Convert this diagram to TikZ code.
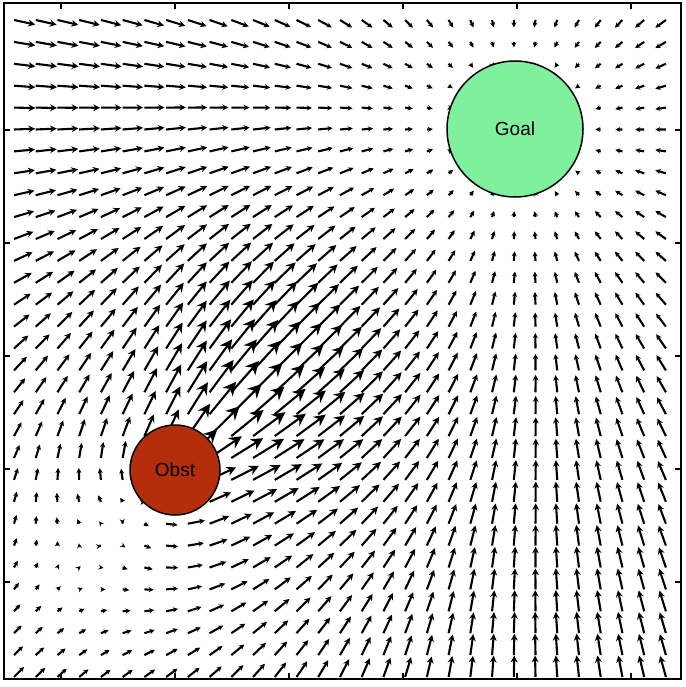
\documentclass[tikz,border=0pt]{standalone}
\usepackage{fontspec}
\setmainfont{Liberation Sans}
\usetikzlibrary{arrows.meta}
\definecolor{goalgreen}{RGB}{126,240,158}
\definecolor{obstred}{RGB}{180,46,12}
\tikzset{
  frameline/.style={line width=2.4pt, black},
  tickline/.style={line width=1.2pt, black},
  fieldarrow/.style={line width=2.1pt, black},
  goalcirc/.style={circle, draw=black, line width=1.5pt, fill=goalgreen, minimum size=136pt, inner sep=0pt, font=\fontsize{19}{19}\selectfont},
  obstcirc/.style={circle, draw=black, line width=1.5pt, fill=obstred, minimum size=90pt, inner sep=0pt, font=\fontsize{19}{19}\selectfont}
}
\begin{document}
\begin{tikzpicture}[x=1pt,y=-1pt]
\useasboundingbox (0,0) rectangle (685,687);
\fill[white] (0,0) rectangle (685,687);
\begin{scope}
\clip (4,3) rectangle (681,679);
\foreach \i in {0,...,30}{
  \foreach \j in {0,...,30}{
    \pgfmathsetmacro\ux{0.14+0.2173*\i}
    \pgfmathsetmacro\uy{0.20+0.219*\j}
    \pgfmathsetmacro\gx{5.15-\ux}
    \pgfmathsetmacro\gy{1.30-\uy}
    \pgfmathsetmacro\gd{max(sqrt(\gx*\gx+\gy*\gy),0.001)}
    \pgfmathsetmacro\mA{1-exp(-(\gd/2)^1.5)}
    \pgfmathsetmacro\ox{\ux-1.75}
    \pgfmathsetmacro\oy{\uy-4.70}
    \pgfmathsetmacro\od{max(sqrt(\ox*\ox+\oy*\oy),0.001)}
    \pgfmathsetmacro\tq{(\od-0.8)/1.8}
    \pgfmathsetmacro\cs{(-0.7071*\ox+0.7071*\oy)/\od}
    \pgfmathsetmacro\fR{(0.5+0.5*\cs*\cs)*exp(-\tq*\tq)}
    \pgfmathsetmacro\vx{22*(\gx/\gd*\mA+\ox/\od*\fR)}
    \pgfmathsetmacro\vy{22*(\gy/\gd*\mA+\oy/\od*\fR)}
    \pgfmathsetmacro\L{sqrt(\vx*\vx+\vy*\vy)}
    \pgfmathsetmacro\hl{max(5,0.32*\L)}
    \pgfmathsetmacro\hw{1.0*\hl}
    \draw[fieldarrow, -{Stealth[length=\hl pt, width=\hw pt]}] (100*\ux,100*\uy) -- ++(\vx,\vy);
  }
}
\end{scope}
\node[goalcirc] (goal) at (515,129) {Goal};
\node[obstcirc] (obst) at (175,470) {Obst};
\draw[frameline] (4,3) rectangle (681,679);
\foreach \t in {61,175,289,403,517,631}{
  \draw[tickline] (\t,679) -- ++(0,-6);
  \draw[tickline] (\t,3) -- ++(0,6);
}
\foreach \t in {130,243,356,469,582}{
  \draw[tickline] (4,\t) -- ++(6,0);
  \draw[tickline] (681,\t) -- ++(-6,0);
}
\end{tikzpicture}
\end{document}
